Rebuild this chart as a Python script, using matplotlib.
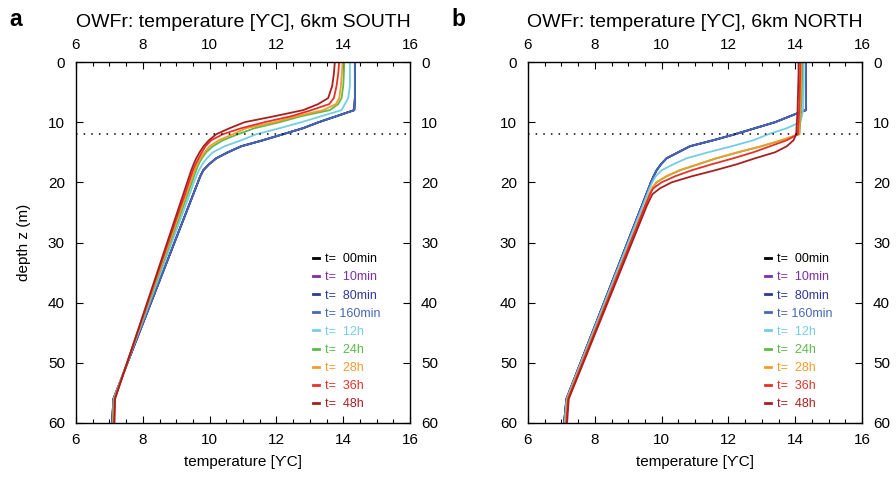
import numpy as np
import matplotlib
matplotlib.use("Agg")
import matplotlib.pyplot as plt
from matplotlib.ticker import MultipleLocator

plt.rcParams['font.family'] = ['Liberation Sans', 'DejaVu Sans']

# series labels and colours
times = ["00min", "10min", "80min", "160min", "12h", "24h", "28h", "36h", "48h"]
labels = ["t=  00min", "t=  10min", "t=  80min", "t= 160min", "t=  12h",
          "t=  24h", "t=  28h", "t=  36h", "t=  48h"]
colors = ["#000000", "#7b2fa8", "#2e3a94", "#4468b8", "#74cde6",
          "#5bbb47", "#f59b2c", "#e63228", "#a91f1f"]

mld = 12  # dotted line depth (m)

# --- 6km SOUTH
depth_south = [0, 2, 4, 6, 7, 8, 9, 10, 11, 12, 13, 14, 15, 16, 17, 18, 19, 20, 22, 24, 56, 60]
blue_south = [14.35, 14.35, 14.35, 14.35, 14.34, 14.33, 13.8, 13.27, 12.8, 12.2, 11.6, 10.95,
              10.55, 10.2, 9.98, 9.81, 9.72, 9.65, 9.51, 9.37, 7.12, 7.08]
south = {
    "00min": blue_south,
    "10min": blue_south,
    "80min": blue_south,
    "160min": blue_south,
    "12h": [14.2, 14.2, 14.2, 14.15, 14.05, 13.95, 13.35, 12.75, 12.1, 11.4, 10.95, 10.45,
            10.1, 9.92, 9.78, 9.68, 9.6, 9.53, 9.40, 9.27, 7.13, 7.1],
    "24h": [14.03, 14.02, 14.0, 13.95, 13.85, 13.6, 12.75, 12.1, 11.35, 10.85, 10.4, 10.1,
            9.9, 9.77, 9.67, 9.6, 9.53, 9.47, 9.34, 9.21, 7.14, 7.11],
    "28h": [13.98, 13.96, 13.93, 13.88, 13.78, 13.4, 12.6, 11.95, 11.1, 10.7, 10.28, 10.0,
            9.85, 9.72, 9.63, 9.55, 9.49, 9.43, 9.30, 9.17, 7.15, 7.12],
    "36h": [13.88, 13.85, 13.8, 13.72, 13.58, 13.05, 12.45, 11.65, 10.95, 10.4, 10.05, 9.88,
            9.77, 9.67, 9.58, 9.5, 9.44, 9.38, 9.26, 9.13, 7.16, 7.14],
    "48h": [13.75, 13.72, 13.67, 13.55, 13.25, 12.8, 11.95, 11.05, 10.6, 10.2, 9.98, 9.82,
            9.7, 9.6, 9.52, 9.45, 9.39, 9.33, 9.21, 9.09, 7.17, 7.15],
}

# --- 6km NORTH
depth_north = [0, 2, 4, 6, 8, 8.4, 9, 10, 11, 12, 13, 14, 15, 16, 17, 18, 19, 20, 21, 22, 24, 56, 60]
blue_north = [14.32, 14.32, 14.32, 14.32, 14.32, 14.12, 13.85, 13.4, 12.8, 12.2, 11.55, 10.85,
              10.5, 10.15, 9.98, 9.85, 9.76, 9.68, 9.61, 9.54, 9.40, 7.15, 7.08]
north = {
    "00min": blue_north,
    "10min": blue_north,
    "80min": blue_north,
    "160min": blue_north,
    "12h": [14.25, 14.25, 14.25, 14.24, 14.23, 14.22, 14.2, 14.15, 13.75, 13.2, 12.75, 12.1,
            11.4, 10.75, 10.35, 10.0, 9.82, 9.72, 9.64, 9.57, 9.43, 7.16, 7.1],
    "24h": [14.21, 14.21, 14.2, 14.19, 14.17, 14.17, 14.16, 14.15, 14.14, 14.13, 13.6, 13.0,
            12.3, 11.65, 11.1, 10.55, 10.15, 9.85, 9.72, 9.64, 9.5, 7.18, 7.13],
    "28h": [14.18, 14.18, 14.17, 14.16, 14.15, 14.15, 14.14, 14.13, 14.12, 14.11, 13.58, 12.98,
            12.28, 11.63, 11.08, 10.53, 10.13, 9.84, 9.71, 9.63, 9.49, 7.18, 7.13],
    "36h": [14.15, 14.15, 14.14, 14.13, 14.12, 14.12, 14.11, 14.1, 14.09, 14.08, 13.75, 13.25,
            12.75, 12.15, 11.5, 10.9, 10.4, 10.0, 9.75, 9.65, 9.5, 7.2, 7.15],
    "48h": [14.1, 14.1, 14.09, 14.08, 14.07, 14.07, 14.06, 14.05, 14.04, 14.03, 13.95, 13.75,
            13.4, 12.8, 12.25, 11.6, 10.9, 10.3, 9.95, 9.72, 9.55, 7.22, 7.17],
}

fig = plt.figure(figsize=(8.96, 4.82), dpi=100)
ax_a = fig.add_axes([76 / 896, 59 / 482, 334 / 896, 361 / 482])
ax_b = fig.add_axes([528 / 896, 59 / 482, 334 / 896, 361 / 482])

panels = [(ax_a, depth_south, south, "OWFr: temperature [\u03d2C], 6km SOUTH", "a", 9),
          (ax_b, depth_north, north, "OWFr: temperature [\u03d2C], 6km NORTH", "b", 451)]

for ax, depth, prof, title, letter, lx in panels:
    for t, lab, col in zip(times, labels, colors):
        ax.plot(prof[t], depth, color=col, lw=1.3, label=lab)
    ax.plot([6, 16], [mld, mld], color="black", lw=1.1, linestyle=(0, (1, 4)))

    ax.set_xlim(6, 16)
    ax.set_ylim(60, 0)
    ax.xaxis.set_major_locator(MultipleLocator(2))
    ax.xaxis.set_minor_locator(MultipleLocator(0.5))
    ax.yaxis.set_major_locator(MultipleLocator(10))
    ax.tick_params(which="both", direction="in", top=True, right=True,
                   labeltop=True, labelright=True, labelsize=11, width=0.8)
    ax.tick_params(which="major", length=5)
    ax.tick_params(which="minor", length=3)
    ax.tick_params(axis="x", which="major", pad=7)
    ax.tick_params(axis="y", which="major", pad=8)
    for s in ax.spines.values():
        s.set_linewidth(1.0)

    ax.set_xlabel("temperature [\u03d2C]", fontsize=11, labelpad=6)
    ax.text(0.5, 1.11, title, transform=ax.transAxes, ha="center", va="center", fontsize=14)
    fig.text(lx / 896, 1 - 20 / 482, letter, fontsize=16.5, fontweight="bold", ha="left", va="center")

    leg = ax.legend(loc="lower left", bbox_to_anchor=(0.71, 0.035), frameon=False,
                    fontsize=9, handlelength=0.45, handletextpad=0.5, labelspacing=0.49,
                    borderpad=0, borderaxespad=0, labelcolor="linecolor")
    for h in leg.get_lines():
        h.set_linewidth(2.0)

ax_a.set_ylabel("depth z (m)", fontsize=11, labelpad=12)

fig.savefig("out.png", dpi=100)
